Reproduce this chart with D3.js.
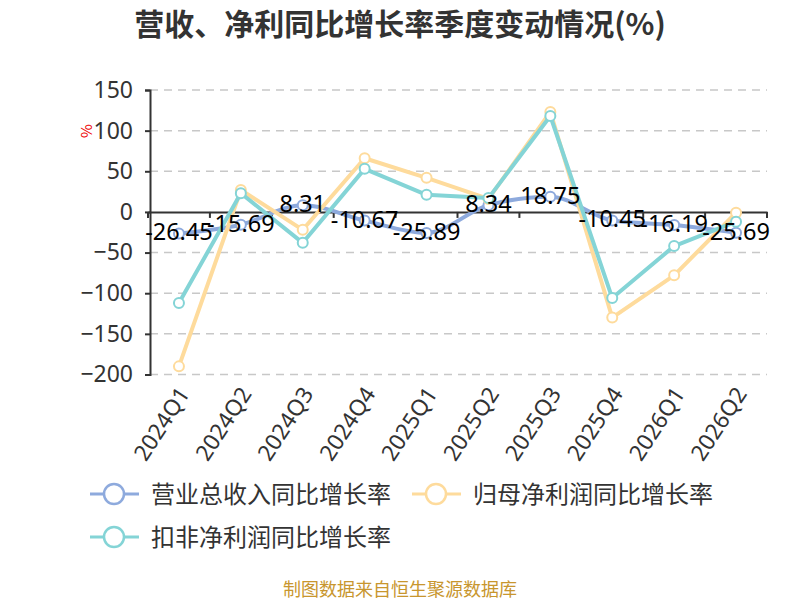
<!DOCTYPE html>
<html lang="zh">
<head>
<meta charset="UTF-8">
<title>营收、净利同比增长率季度变动情况</title>
<script src="https://d3js.org/d3.v7.min.js"></script>
<style>
  html, body { margin: 0; padding: 0; background: #fff; }
  svg { display: block; font-family: "Noto Sans CJK SC", "Noto Sans", sans-serif; }
</style>
</head>
<body>
<svg id="chart" width="800" height="600"></svg>
<script>
// quarters on the x axis
const quarters = ["2024Q1", "2024Q2", "2024Q3", "2024Q4", "2025Q1", "2025Q2", "2025Q3", "2025Q4", "2026Q1", "2026Q2"];
// 营业总收入同比增长率 (labelled)
const revenueYoY = [-26.45, -15.69, 8.31, -10.67, -25.89, 8.34, 18.75, -10.45, -16.19, -25.69];
// 归母净利润同比增长率
const netProfitYoY = [-190, 27, -22, 66, 42, 16, 123, -130, -78, -1];
// 扣非净利润同比增长率
const deductedProfitYoY = [-112, 23, -38, 53, 21, 17, 118, -106, -42, -12];
const yTicks = [150, 100, 50, 0, -50, -100, -150, -200];

const seriesList = [
  { name: "营业总收入同比增长率", values: revenueYoY, color: "#8eaadd", smooth: true },
  { name: "归母净利润同比增长率", values: netProfitYoY, color: "#fedb9c", smooth: false },
  { name: "扣非净利润同比增长率", values: deductedProfitYoY, color: "#84d4d6", smooth: false }
];

const svg = d3.select("#chart");
const plotLeft = 150, plotRight = 767, plotTop = 90, plotBottom = 374.5;

const x = d3.scaleBand().domain(quarters).range([plotLeft - 2, plotRight]);
const y = d3.scaleLinear().domain([-200, 150]).range([plotBottom, plotTop]);
const cx = d => x(d) + x.bandwidth() / 2;

// title
svg.append("text")
  .attr("x", 400).attr("y", 35)
  .attr("text-anchor", "middle")
  .attr("font-size", 30).attr("font-weight", "bold")
  .attr("fill", "#333")
  .text("营收、净利同比增长率季度变动情况(%)");

// dashed grid
svg.append("g").selectAll("line")
  .data(yTicks.filter(t => t !== 0))
  .join("line")
  .attr("x1", plotLeft).attr("x2", plotRight)
  .attr("y1", d => y(d)).attr("y2", d => y(d))
  .attr("stroke", "#c8c8c8").attr("stroke-width", 1.5)
  .attr("stroke-dasharray", "8,6");

// y axis
const yAxis = svg.append("g")
  .attr("transform", `translate(${plotLeft},0)`)
  .call(d3.axisLeft(y).tickValues(yTicks).tickSize(5).tickPadding(12));
yAxis.select(".domain").attr("stroke", "#333").attr("stroke-width", 2);
yAxis.selectAll(".tick line").attr("stroke", "#333").attr("stroke-width", 2);
yAxis.selectAll(".tick text")
  .attr("font-size", 23).attr("fill", "#333")
  .attr("font-family", "'Noto Sans', sans-serif");

// unit label
svg.append("text")
  .attr("transform", `translate(92,131) rotate(-90)`)
  .attr("text-anchor", "middle")
  .attr("font-size", 15).attr("fill", "#e00")
  .text("%");

// zero line with ticks at band boundaries
const xAxis = svg.append("g")
  .attr("transform", `translate(0,${y(0)})`)
  .call(d3.axisBottom(x).tickSize(0).tickFormat(""));
xAxis.select(".domain").attr("stroke", "#333").attr("stroke-width", 2);
svg.append("g").selectAll("line")
  .data(quarters.concat(["end"]))
  .join("line")
  .attr("x1", (d, i) => x.range()[0] + i * x.step())
  .attr("x2", (d, i) => x.range()[0] + i * x.step())
  .attr("y1", y(0)).attr("y2", y(0) + 6)
  .attr("stroke", "#333").attr("stroke-width", 2);

// rotated quarter labels
svg.append("g").selectAll("text")
  .data(quarters)
  .join("text")
  .attr("transform", d => `translate(${cx(d) + 5},${plotBottom + 15}) rotate(-57)`)
  .attr("text-anchor", "end")
  .attr("dy", "0.35em")
  .attr("font-size", 22.5).attr("fill", "#333")
  .attr("font-family", "'Noto Sans', sans-serif")
  .text(d => d);

// lines
seriesList.forEach(s => {
  const line = d3.line()
    .x((v, i) => cx(quarters[i]))
    .y(v => y(v))
    .curve(s.smooth ? d3.curveMonotoneX : d3.curveLinear);
  svg.append("path")
    .datum(s.values)
    .attr("d", line)
    .attr("fill", "none")
    .attr("stroke", s.color)
    .attr("stroke-width", 4)
    .attr("stroke-linejoin", "round");
  svg.append("g").selectAll("circle")
    .data(s.values)
    .join("circle")
    .attr("cx", (v, i) => cx(quarters[i]))
    .attr("cy", v => y(v))
    .attr("r", 5)
    .attr("fill", "#fff")
    .attr("stroke", s.color)
    .attr("stroke-width", 2);
});

// value labels for revenue series
svg.append("g").selectAll("text")
  .data(revenueYoY)
  .join("text")
  .attr("x", (v, i) => cx(quarters[i]))
  .attr("y", v => y(v) + 7)
  .attr("text-anchor", "middle")
  .attr("font-size", 23.5).attr("fill", "#000")
  .attr("font-family", "'Noto Sans', sans-serif")
  .text(v => v.toFixed(2));

// legend
const legendItems = [
  { s: seriesList[0], x: 90, y: 494 },
  { s: seriesList[1], x: 412, y: 494 },
  { s: seriesList[2], x: 90, y: 537 }
];
const legend = svg.append("g").selectAll("g")
  .data(legendItems)
  .join("g")
  .attr("transform", d => `translate(${d.x},${d.y})`);
legend.append("line")
  .attr("x1", 0).attr("x2", 49)
  .attr("stroke", d => d.s.color).attr("stroke-width", 3);
legend.append("circle")
  .attr("cx", 24).attr("r", 10)
  .attr("fill", "#fff")
  .attr("stroke", d => d.s.color).attr("stroke-width", 2.5);
legend.append("text")
  .attr("x", 61).attr("dy", "0.36em")
  .attr("font-size", 24).attr("fill", "#333")
  .text(d => d.s.name);

// source note
svg.append("text")
  .attr("x", 400).attr("y", 596)
  .attr("text-anchor", "middle")
  .attr("font-size", 18).attr("fill", "#c8962e")
  .text("制图数据来自恒生聚源数据库");
</script>
</body>
</html>
